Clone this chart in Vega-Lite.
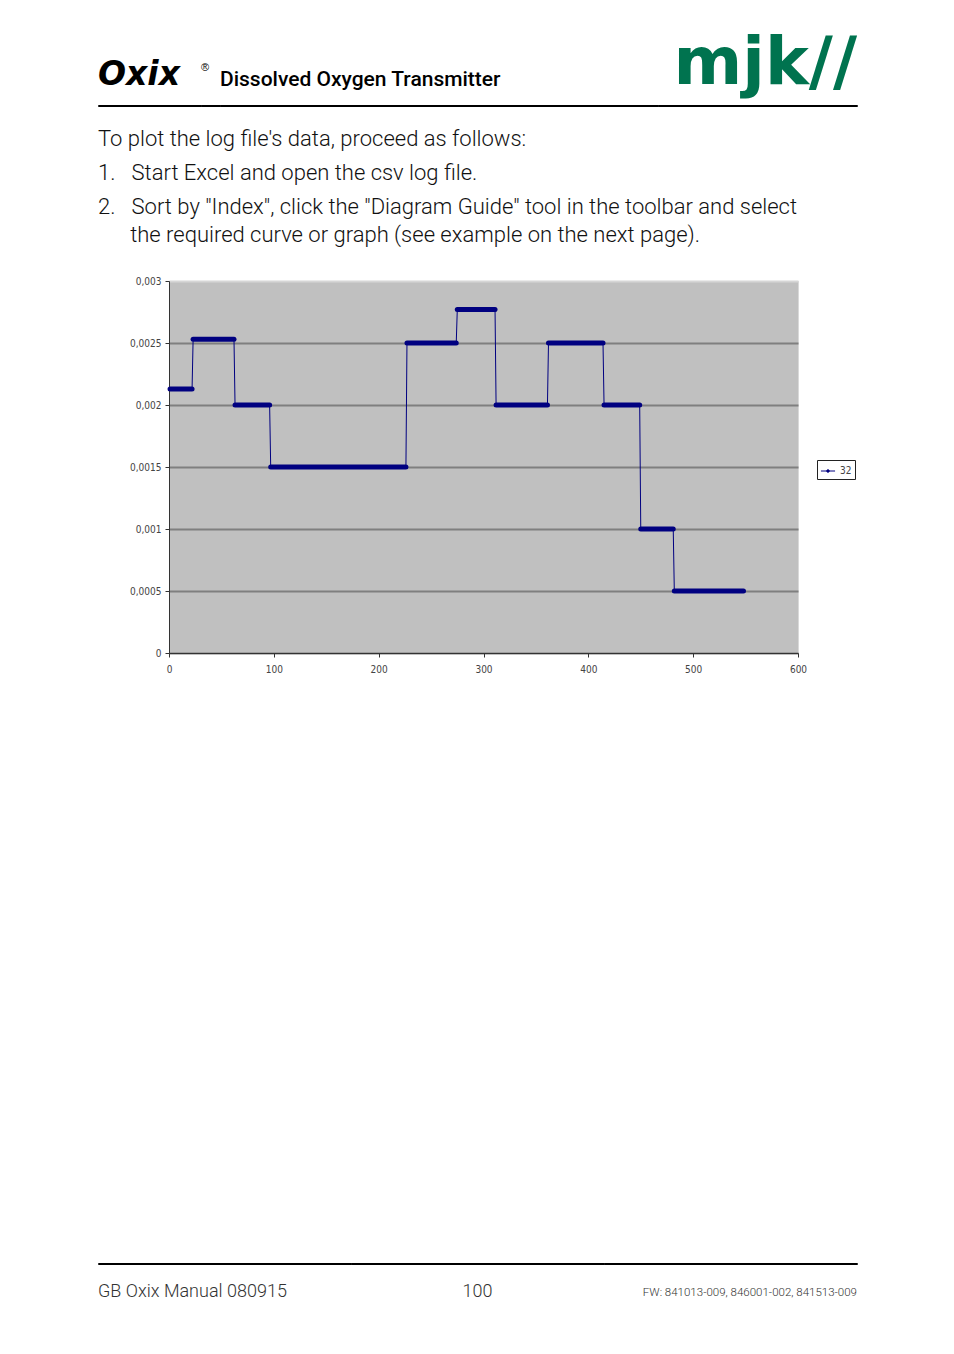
{
  "$schema": "https://vega.github.io/schema/vega-lite/v6.json",
  "background": "white",
  "padding": {"left": 97, "top": 30, "right": 10, "bottom": 10},
  "spacing": 21,
  "config": {"view": {"stroke": null}, "font": "Liberation Sans"},
  "vconcat": [
    {
      "spacing": 0,
      "bounds": "flush",
      "hconcat": [
        {
          "width": 103, "height": 1,
          "data": {"values": []}, "mark": "point",
          "view": {"stroke": "#000", "strokeWidth": 1},
          "title": {"text": "Oxix", "anchor": "start", "baseline": "alphabetic", "offset": -13, "font": "DejaVu Sans", "fontSize": 33, "fontWeight": "bold", "fontStyle": "italic", "color": "#000"}
        },
        {
          "width": 19, "height": 1,
          "data": {"values": []}, "mark": "point",
          "view": {"stroke": "#000", "strokeWidth": 1},
          "title": {"text": "®", "anchor": "start", "baseline": "alphabetic", "offset": 23, "font": "Liberation Sans", "fontSize": 11, "fontWeight": "normal", "color": "#000"}
        },
        {
          "width": 438, "height": 1,
          "data": {"values": []}, "mark": "point",
          "view": {"stroke": "#000", "strokeWidth": 1},
          "title": {"text": "Dissolved Oxygen Transmitter", "anchor": "start", "baseline": "alphabetic", "offset": -1.5, "font": "Roboto", "fontSize": 21, "fontWeight": 500, "color": "#000"}
        },
        {
          "width": 199, "height": 1,
          "data": {"values": []}, "mark": "point",
          "view": {"stroke": "#000", "strokeWidth": 1},
          "title": {"text": "mjk//", "anchor": "end", "baseline": "alphabetic", "offset": -45, "font": "DejaVu Sans", "fontSize": 66, "fontWeight": "bold", "color": "#00734f"}
        }
      ]
    },
    {
      "spacing": 0,
      "bounds": "flush",
      "hconcat": [
        {
          "width": 71, "height": 960,
          "data": {"values": []}, "mark": "point",
          "title": {
            "text": ["To plot the log file's data, proceed as follows:", "1.\u00a0\u00a0\u00a0Start Excel and open the csv log file."],
            "subtitle": ["2.\u00a0\u00a0\u00a0Sort by \"Index\", click the \"Diagram Guide\" tool in the toolbar and select", "\u200b\u00a0\u00a0\u00a0\u00a0\u00a0\u00a0the required curve or graph (see example on the next page)."],
            "anchor": "start", "baseline": "alphabetic", "offset": 17,
            "font": "Roboto", "fontSize": 22, "fontWeight": 300, "color": "#111", "lineHeight": 34,
            "subtitleFont": "Roboto", "subtitleFontSize": 22, "subtitleFontWeight": 300, "subtitleColor": "#111", "subtitleLineHeight": 28, "subtitlePadding": 12
          }
        },
        {
          "width": 629, "height": 372,
          "view": {"fill": "#c0c0c0", "stroke": "#d9d9d9"},
          "data": {
            "values": [
              {"index": 1, "value": 0.00213, "step": 1},
              {"index": 22, "value": 0.00213, "step": 1},
              {"index": 23, "value": 0.00253, "step": 2},
              {"index": 62, "value": 0.00253, "step": 2},
              {"index": 63, "value": 0.002, "step": 3},
              {"index": 96, "value": 0.002, "step": 3},
              {"index": 97, "value": 0.0015, "step": 4},
              {"index": 226, "value": 0.0015, "step": 4},
              {"index": 227, "value": 0.0025, "step": 5},
              {"index": 274, "value": 0.0025, "step": 5},
              {"index": 275, "value": 0.00277, "step": 6},
              {"index": 311, "value": 0.00277, "step": 6},
              {"index": 312, "value": 0.002, "step": 7},
              {"index": 361, "value": 0.002, "step": 7},
              {"index": 362, "value": 0.0025, "step": 8},
              {"index": 414, "value": 0.0025, "step": 8},
              {"index": 415, "value": 0.002, "step": 9},
              {"index": 449, "value": 0.002, "step": 9},
              {"index": 450, "value": 0.001, "step": 10},
              {"index": 481, "value": 0.001, "step": 10},
              {"index": 482, "value": 0.0005, "step": 11},
              {"index": 548, "value": 0.0005, "step": 11}
            ]
          },
          "encoding": {
            "x": {
              "field": "index", "type": "quantitative",
              "scale": {"domain": [0, 600], "nice": false},
              "axis": {"values": [0, 100, 200, 300, 400, 500, 600], "title": null, "grid": false, "labelFlush": false, "domainColor": "#333", "tickColor": "#333", "tickSize": 4, "labelFont": "'Liberation Sans Narrow', 'DejaVu Sans Condensed', sans-serif", "labelFontSize": 10, "labelColor": "#444", "labelPadding": 7}
            },
            "y": {
              "field": "value", "type": "quantitative",
              "scale": {"domain": [0, 0.003], "nice": false},
              "axis": {
                "values": [0, 0.0005, 0.001, 0.0015, 0.002, 0.0025, 0.003],
                "format": "~f", "labelExpr": "replace(datum.label, '.', ',')", "labelFlush": false,
                "title": null, "domainColor": "#333", "tickColor": "#333", "tickSize": 4,
                "labelFont": "'Liberation Sans Narrow', 'DejaVu Sans Condensed', sans-serif", "labelFontSize": 10, "labelColor": "#444", "labelPadding": 4,
                "gridColor": {"condition": {"test": "datum.value >= 0.0029", "value": "#d6d6d6"}, "value": "#7f7f7f"},
                "gridWidth": 2
              }
            },
            "color": {
              "datum": "32",
              "scale": {"range": ["#000080"]},
              "legend": {
                "orient": "none", "legendX": 719, "legendY": 355, "title": null,
                "strokeColor": "#222", "fillColor": "#fff", "padding": 3,
                "labelFont": "'Liberation Sans Narrow', 'DejaVu Sans Condensed', sans-serif", "labelFontSize": 10, "labelColor": "#444", "labelOffset": 4,
                "symbolType": "M-1,0H1M-0.18,0A0.18,0.18 0 1,0 0.18,0A0.18,0.18 0 1,0 -0.18,0",
                "symbolSize": 200, "symbolStrokeWidth": 1, "symbolFillColor": "#000080", "symbolStrokeColor": "#000080"
              }
            }
          },
          "layer": [
            {"mark": {"type": "line", "strokeWidth": 1}},
            {"mark": {"type": "line", "strokeWidth": 5, "strokeCap": "round"}, "encoding": {"detail": {"field": "step", "type": "nominal"}}}
          ]
        }
      ]
    },
    {
      "spacing": 0,
      "bounds": "flush",
      "hconcat": [
        {
          "width": 253, "height": 1,
          "data": {"values": []}, "mark": "point",
          "view": {"stroke": "#000", "strokeWidth": 1},
          "title": {"text": "GB Oxix Manual 080915", "orient": "bottom", "anchor": "start", "baseline": "alphabetic", "offset": 33, "font": "Roboto", "fontSize": 18, "fontWeight": 300, "color": "#333"}
        },
        {
          "width": 253, "height": 1,
          "data": {"values": []}, "mark": "point",
          "view": {"stroke": "#000", "strokeWidth": 1},
          "title": {"text": "100", "orient": "bottom", "anchor": "middle", "baseline": "alphabetic", "offset": 33, "font": "Roboto", "fontSize": 18, "fontWeight": 300, "color": "#333"}
        },
        {
          "width": 253, "height": 1,
          "data": {"values": []}, "mark": "point",
          "view": {"stroke": "#000", "strokeWidth": 1},
          "title": {"text": "FW: 841013-009, 846001-002, 841513-009", "orient": "bottom", "anchor": "end", "baseline": "alphabetic", "offset": 32, "font": "Roboto", "fontSize": 11.5, "fontWeight": 300, "color": "#333"}
        }
      ]
    }
  ]
}
